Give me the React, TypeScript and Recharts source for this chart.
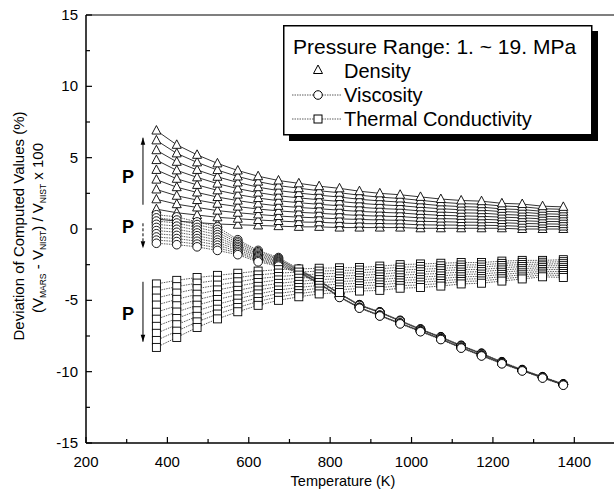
import React from 'react';
import { LineChart, Line, XAxis, YAxis, ReferenceLine, ReferenceDot } from 'recharts';

// temperatures (K) of the computed points
const TEMPS = [373, 423, 473, 523, 573, 623, 673, 723, 773, 823, 872, 922, 972, 1022, 1072, 1122, 1172, 1222, 1272, 1322, 1373];

const X_TICKS = [200, 300, 400, 500, 600, 700, 800, 900, 1000, 1100, 1200, 1300, 1400, 1500];
const Y_TICKS = [-15, -12.5, -10, -7.5, -5, -2.5, 0, 2.5, 5, 7.5, 10, 12.5, 15];

// density deviation (%), 1 ~ 19 MPa
const density01 = [0.7, 0.55, 0.45, 0.35, 0.3, 0.25, 0.2, 0.15, 0.15, 0.1, 0.1, 0.1, 0.1, 0.05, 0.05, 0.05, 0.05, 0.05, 0, 0, 0];
const density03 = [1.39, 1.14, 0.98, 0.82, 0.72, 0.63, 0.56, 0.49, 0.47, 0.41, 0.38, 0.37, 0.36, 0.29, 0.28, 0.27, 0.26, 0.24, 0.19, 0.18, 0.17];
const density05 = [2.08, 1.74, 1.51, 1.29, 1.14, 1.02, 0.91, 0.83, 0.78, 0.71, 0.67, 0.63, 0.61, 0.54, 0.51, 0.48, 0.47, 0.44, 0.39, 0.36, 0.34];
const density07 = [2.77, 2.33, 2.03, 1.77, 1.57, 1.4, 1.27, 1.17, 1.1, 1.02, 0.95, 0.9, 0.87, 0.78, 0.73, 0.7, 0.68, 0.63, 0.58, 0.53, 0.52];
const density09 = [3.46, 2.93, 2.56, 2.24, 1.99, 1.78, 1.62, 1.51, 1.42, 1.32, 1.23, 1.17, 1.12, 1.03, 0.96, 0.92, 0.89, 0.83, 0.78, 0.71, 0.69];
const density11 = [4.14, 3.52, 3.09, 2.71, 2.41, 2.17, 1.98, 1.84, 1.73, 1.63, 1.52, 1.43, 1.38, 1.27, 1.19, 1.13, 1.11, 1.02, 0.97, 0.89, 0.86];
const density13 = [4.83, 4.11, 3.62, 3.18, 2.83, 2.55, 2.33, 2.18, 2.05, 1.93, 1.8, 1.7, 1.63, 1.52, 1.42, 1.35, 1.32, 1.22, 1.17, 1.07, 1.03];
const density15 = [5.52, 4.71, 4.14, 3.66, 3.26, 2.93, 2.69, 2.52, 2.37, 2.24, 2.08, 1.97, 1.89, 1.76, 1.64, 1.57, 1.53, 1.41, 1.36, 1.24, 1.21];
const density17 = [6.21, 5.3, 4.67, 4.13, 3.68, 3.32, 3.04, 2.86, 2.68, 2.54, 2.37, 2.23, 2.14, 2.01, 1.87, 1.78, 1.74, 1.61, 1.56, 1.42, 1.38];
const density19 = [6.9, 5.9, 5.2, 4.6, 4.1, 3.7, 3.4, 3.2, 3.0, 2.85, 2.65, 2.5, 2.4, 2.25, 2.1, 2.0, 1.95, 1.8, 1.75, 1.6, 1.55];

// viscosity deviation (%)
const viscosity01 = [1.0, 0.85, 0.5, 0.15, -0.75, -1.5, -2.0, -2.8, -3.6, -4.5, -5.3, -5.8, -6.4, -7.0, -7.55, -8.15, -8.7, -9.3, -9.85, -10.35, -10.85];
const viscosity03 = [0.78, 0.63, 0.31, -0.03, -0.87, -1.59, -2.07, -2.83, -3.62, -4.52, -5.32, -5.82, -6.42, -7.02, -7.57, -8.17, -8.72, -9.32, -9.87, -10.37, -10.87];
const viscosity05 = [0.56, 0.42, 0.11, -0.22, -0.98, -1.68, -2.13, -2.87, -3.64, -4.54, -5.34, -5.84, -6.44, -7.04, -7.59, -8.19, -8.74, -9.34, -9.89, -10.39, -10.89];
const viscosity07 = [0.33, 0.2, -0.08, -0.4, -1.1, -1.77, -2.2, -2.9, -3.65, -4.55, -5.35, -5.85, -6.45, -7.05, -7.6, -8.2, -8.75, -9.35, -9.9, -10.4, -10.9];
const viscosity09 = [0.11, -0.02, -0.28, -0.58, -1.22, -1.86, -2.27, -2.93, -3.66, -4.56, -5.36, -5.86, -6.46, -7.06, -7.61, -8.21, -8.76, -9.36, -9.91, -10.41, -10.91];
const viscosity11 = [-0.11, -0.23, -0.47, -0.77, -1.33, -1.94, -2.33, -2.97, -3.79, -4.74, -5.49, -6.04, -6.59, -7.14, -7.69, -8.29, -8.84, -9.39, -9.89, -10.39, -10.89];
const viscosity13 = [-0.33, -0.45, -0.67, -0.95, -1.45, -2.03, -2.4, -3.0, -3.8, -4.75, -5.5, -6.05, -6.6, -7.15, -7.7, -8.3, -8.85, -9.4, -9.9, -10.4, -10.9];
const viscosity15 = [-0.56, -0.67, -0.86, -1.13, -1.57, -2.12, -2.47, -3.03, -3.81, -4.76, -5.51, -6.06, -6.61, -7.16, -7.71, -8.31, -8.86, -9.41, -9.91, -10.41, -10.91];
const viscosity17 = [-0.78, -0.88, -1.06, -1.32, -1.68, -2.21, -2.53, -3.07, -3.83, -4.78, -5.53, -6.08, -6.63, -7.18, -7.73, -8.33, -8.88, -9.43, -9.93, -10.43, -10.93];
const viscosity19 = [-1.0, -1.1, -1.25, -1.5, -1.8, -2.3, -2.6, -3.1, -3.85, -4.8, -5.55, -6.1, -6.65, -7.2, -7.75, -8.35, -8.9, -9.45, -9.95, -10.45, -10.95];

// thermal conductivity deviation (%)
const conductivity01 = [-3.85, -3.6, -3.4, -3.25, -3.1, -2.95, -2.85, -2.8, -2.75, -2.72, -2.7, -2.6, -2.5, -2.45, -2.4, -2.35, -2.35, -2.25, -2.2, -2.2, -2.15];
const conductivity03 = [-4.34, -4.04, -3.79, -3.59, -3.4, -3.22, -3.09, -3.02, -2.95, -2.91, -2.88, -2.79, -2.68, -2.63, -2.58, -2.52, -2.51, -2.41, -2.34, -2.33, -2.29];
const conductivity05 = [-4.84, -4.49, -4.18, -3.93, -3.7, -3.48, -3.33, -3.23, -3.15, -3.1, -3.07, -2.98, -2.87, -2.82, -2.76, -2.68, -2.67, -2.56, -2.49, -2.46, -2.43];
const conductivity07 = [-5.33, -4.93, -4.57, -4.27, -4.0, -3.75, -3.57, -3.45, -3.35, -3.3, -3.25, -3.17, -3.05, -3.0, -2.93, -2.85, -2.83, -2.72, -2.63, -2.58, -2.57];
const conductivity09 = [-5.83, -5.38, -4.96, -4.61, -4.3, -4.02, -3.81, -3.67, -3.55, -3.49, -3.43, -3.36, -3.23, -3.18, -3.11, -3.02, -2.99, -2.87, -2.78, -2.71, -2.71];
const conductivity11 = [-6.32, -5.82, -5.34, -4.94, -4.6, -4.28, -4.04, -3.88, -3.75, -3.68, -3.62, -3.54, -3.42, -3.37, -3.29, -3.18, -3.16, -3.03, -2.92, -2.84, -2.84];
const conductivity13 = [-6.82, -6.27, -5.73, -5.28, -4.9, -4.55, -4.28, -4.1, -3.95, -3.87, -3.8, -3.73, -3.6, -3.55, -3.47, -3.35, -3.32, -3.18, -3.07, -2.97, -2.98];
const conductivity15 = [-7.31, -6.71, -6.12, -5.62, -5.2, -4.82, -4.52, -4.32, -4.15, -4.07, -3.98, -3.92, -3.78, -3.73, -3.64, -3.52, -3.48, -3.34, -3.21, -3.09, -3.12];
const conductivity17 = [-7.81, -7.16, -6.51, -5.96, -5.5, -5.08, -4.76, -4.53, -4.35, -4.26, -4.17, -4.11, -3.97, -3.92, -3.82, -3.68, -3.64, -3.49, -3.36, -3.22, -3.26];
const conductivity19 = [-8.3, -7.6, -6.9, -6.3, -5.8, -5.35, -5.0, -4.75, -4.55, -4.45, -4.35, -4.3, -4.15, -4.1, -4.0, -3.85, -3.8, -3.65, -3.5, -3.35, -3.4];

const densitySeries = [density01, density03, density05, density07, density09, density11, density13, density15, density17, density19];
const viscositySeries = [viscosity01, viscosity03, viscosity05, viscosity07, viscosity09, viscosity11, viscosity13, viscosity15, viscosity17, viscosity19];
const conductivitySeries = [conductivity01, conductivity03, conductivity05, conductivity07, conductivity09, conductivity11, conductivity13, conductivity15, conductivity17, conductivity19];

const data = TEMPS.map((t, i) => {
  const row: Record<string, number> = { t };
  densitySeries.forEach((s, k) => (row[`d${k}`] = s[i]));
  viscositySeries.forEach((s, k) => (row[`v${k}`] = s[i]));
  conductivitySeries.forEach((s, k) => (row[`c${k}`] = s[i]));
  return row;
});

const FONT = '"Liberation Sans", Arial, sans-serif';

const TriDot = (p: any) => {
  const { cx, cy, index } = p;
  if (cx == null || cy == null) return <g key={index} />;
  return (
    <polygon
      key={index}
      points={`${cx},${cy - 5} ${cx - 4.5},${cy + 3.5} ${cx + 4.5},${cy + 3.5}`}
      fill="#fff"
      stroke="#000"
      strokeWidth={0.9}
    />
  );
};

const CircleDot = (p: any) => {
  const { cx, cy, index } = p;
  if (cx == null || cy == null) return <g key={index} />;
  return <circle key={index} cx={cx} cy={cy} r={4.3} fill="#fff" stroke="#000" strokeWidth={0.9} />;
};

const SquareDot = (p: any) => {
  const { cx, cy, index } = p;
  if (cx == null || cy == null) return <g key={index} />;
  return <rect key={index} x={cx - 4} y={cy - 4} width={8} height={8} fill="#fff" stroke="#000" strokeWidth={0.9} />;
};

const XTick = (p: any) => {
  const { x, y, payload } = p;
  const v = payload.value;
  const major = v % 200 === 0;
  return (
    <g>
      <line x1={x} x2={x} y1={y} y2={y - (major ? 6 : 4)} stroke="#000" strokeWidth={1.2} />
      {major && v <= 1400 && (
        <text x={x} y={y + 24} textAnchor="middle" fontSize={15} fontFamily={FONT} fill="#000">
          {v}
        </text>
      )}
    </g>
  );
};

const YTickLeft = (p: any) => {
  const { x, y, payload } = p;
  const v = payload.value;
  const major = v % 5 === 0;
  return (
    <g>
      <line x1={x} x2={x + (major ? 6 : 4)} y1={y} y2={y} stroke="#000" strokeWidth={1.2} />
      {major && (
        <text x={x - 8} y={y + 5} textAnchor="end" fontSize={15} fontFamily={FONT} fill="#000">
          {v}
        </text>
      )}
    </g>
  );
};

const YTickRight = (p: any) => {
  const { x, y, payload } = p;
  const major = payload.value % 5 === 0;
  return <line x1={x} x2={x - (major ? 6 : 4)} y1={y} y2={y} stroke="#000" strokeWidth={1.2} />;
};

const YTitle = () => (
  <g fontFamily={FONT} fill="#000">
    <text x={0} y={0} transform="translate(24 226) rotate(-90)" textAnchor="middle" fontSize={15}>
      Deviation of Computed Values (%)
    </text>
    <text x={0} y={0} transform="translate(43 228) rotate(-90)" textAnchor="middle" fontSize={15}>
      (V<tspan fontSize={8.5} dy={3}>MARS</tspan>
      <tspan dy={-3}> - V</tspan>
      <tspan fontSize={8.5} dy={3}>NIST</tspan>
      <tspan dy={-3}>) / V</tspan>
      <tspan fontSize={8.5} dy={3}>NIST</tspan>
      <tspan dy={-3}> x 100</tspan>
    </text>
  </g>
);

const XTitle = () => (
  <text x={343} y={486} textAnchor="middle" fontSize={14.5} fontFamily={FONT} fill="#000">
    Temperature (K)
  </text>
);

const arrowShape = (headAtEnd: boolean, dashed: boolean) => (p: any) => {
  const { x1, y1, x2, y2 } = p;
  const hx = headAtEnd ? x2 : x1;
  const hy = headAtEnd ? y2 : y1;
  const dir = (headAtEnd ? y2 - y1 : y1 - y2) > 0 ? 1 : -1;
  return (
    <g>
      <line x1={x1} y1={y1} x2={x2} y2={y2} stroke="#000" strokeWidth={1} strokeDasharray={dashed ? '3 2' : undefined} />
      <polygon points={`${hx},${hy} ${hx - 2.3},${hy - dir * 7} ${hx + 2.3},${hy - dir * 7}`} fill="#000" />
    </g>
  );
};

const pShape = (p: any) => (
  <text x={p.cx} y={p.cy + 6.5} textAnchor="middle" fontSize={18} fontWeight="bold" fontFamily={FONT} fill="#000">
    P
  </text>
);

const Legend = () => (
  <svg width={614} height={499} style={{ position: 'absolute', left: 0, top: 0, pointerEvents: 'none' }}>
    <rect x={289} y={31} width={309} height={110} fill="#000" />
    <rect x={283.75} y={25.75} width={308} height={109} fill="#fff" stroke="#000" strokeWidth={1.5} />
    <g fontFamily={FONT} fill="#000">
      <text x={293} y={54} fontSize={21}>Pressure Range: 1. ~ 19. MPa</text>
      <text x={344} y={78} fontSize={20}>Density</text>
      <text x={344} y={102} fontSize={20}>Viscosity</text>
      <text x={344} y={126} fontSize={20}>Thermal Conductivity</text>
    </g>
    <polygon points="318,65 313.5,73.5 322.5,73.5" fill="#fff" stroke="#000" strokeWidth={1} />
    <line x1={292} x2={341} y1={95} y2={95} stroke="#333" strokeWidth={0.8} strokeDasharray="1.5 1" />
    <circle cx={318} cy={95} r={4.3} fill="#fff" stroke="#000" strokeWidth={1} />
    <line x1={292} x2={341} y1={119} y2={119} stroke="#333" strokeWidth={0.8} strokeDasharray="1.5 1" />
    <rect x={314} y={115} width={8} height={8} fill="#fff" stroke="#000" strokeWidth={1} />
  </svg>
);

export default function App() {
  return (
    <div style={{ position: 'absolute', left: 0, top: 0, width: 614, height: 499, overflow: 'hidden', background: '#fff' }}>
      <LineChart width={620} height={499} data={data} margin={{ top: 15, right: 0, bottom: 16, left: 0 }}>
        <XAxis
          dataKey="t"
          type="number"
          domain={[200, 1500]}
          ticks={X_TICKS}
          interval={0}
          tick={XTick}
          tickLine={false}
          tickSize={0}
          tickMargin={0}
          height={40}
          axisLine={{ stroke: '#000', strokeWidth: 1.5 }}
          label={{ content: XTitle }}
        />
        <YAxis
          yAxisId="l"
          type="number"
          domain={[-15, 15]}
          ticks={Y_TICKS}
          interval={0}
          tick={YTickLeft}
          tickLine={false}
          tickSize={0}
          tickMargin={0}
          width={86}
          axisLine={{ stroke: '#000', strokeWidth: 1.5 }}
          label={{ content: YTitle }}
        />
        <YAxis
          yAxisId="r"
          orientation="right"
          type="number"
          domain={[-15, 15]}
          ticks={Y_TICKS}
          interval={0}
          tick={YTickRight}
          tickLine={false}
          tickSize={0}
          tickMargin={0}
          width={5}
          axisLine={{ stroke: '#000', strokeWidth: 1.5 }}
        />
        <ReferenceLine yAxisId="l" y={15} stroke="#000" strokeWidth={1.2} />

        {densitySeries.map((_, k) => (
          <Line
            key={`d${k}`}
            yAxisId="l"
            dataKey={`d${k}`}
            type="linear"
            stroke="#000"
            strokeWidth={0.8}
            dot={TriDot}
            activeDot={false}
            isAnimationActive={false}
          />
        ))}
        {viscositySeries.map((_, k) => (
          <Line
            key={`v${k}`}
            yAxisId="l"
            dataKey={`v${k}`}
            type="linear"
            stroke="#333"
            strokeWidth={0.8}
            strokeDasharray="1.5 1"
            dot={CircleDot}
            activeDot={false}
            isAnimationActive={false}
          />
        ))}
        {conductivitySeries.map((_, k) => (
          <Line
            key={`c${k}`}
            yAxisId="l"
            dataKey={`c${k}`}
            type="linear"
            stroke="#333"
            strokeWidth={0.8}
            strokeDasharray="1.5 1"
            dot={SquareDot}
            activeDot={false}
            isAnimationActive={false}
          />
        ))}

        <ReferenceLine yAxisId="l" segment={[{ x: 340, y: 1.7 }, { x: 340, y: 6.4 }]} shape={arrowShape(true, false)} />
        <ReferenceLine yAxisId="l" segment={[{ x: 340, y: 0.4 }, { x: 340, y: -1.35 }]} shape={arrowShape(true, true)} />
        <ReferenceLine yAxisId="l" segment={[{ x: 340, y: -3.7 }, { x: 340, y: -7.9 }]} shape={arrowShape(true, false)} />
        <ReferenceDot yAxisId="l" x={303} y={3.65} r={0} shape={pShape} />
        <ReferenceDot yAxisId="l" x={303} y={0.15} r={0} shape={pShape} />
        <ReferenceDot yAxisId="l" x={303} y={-5.9} r={0} shape={pShape} />
      </LineChart>
      <Legend />
    </div>
  );
}
